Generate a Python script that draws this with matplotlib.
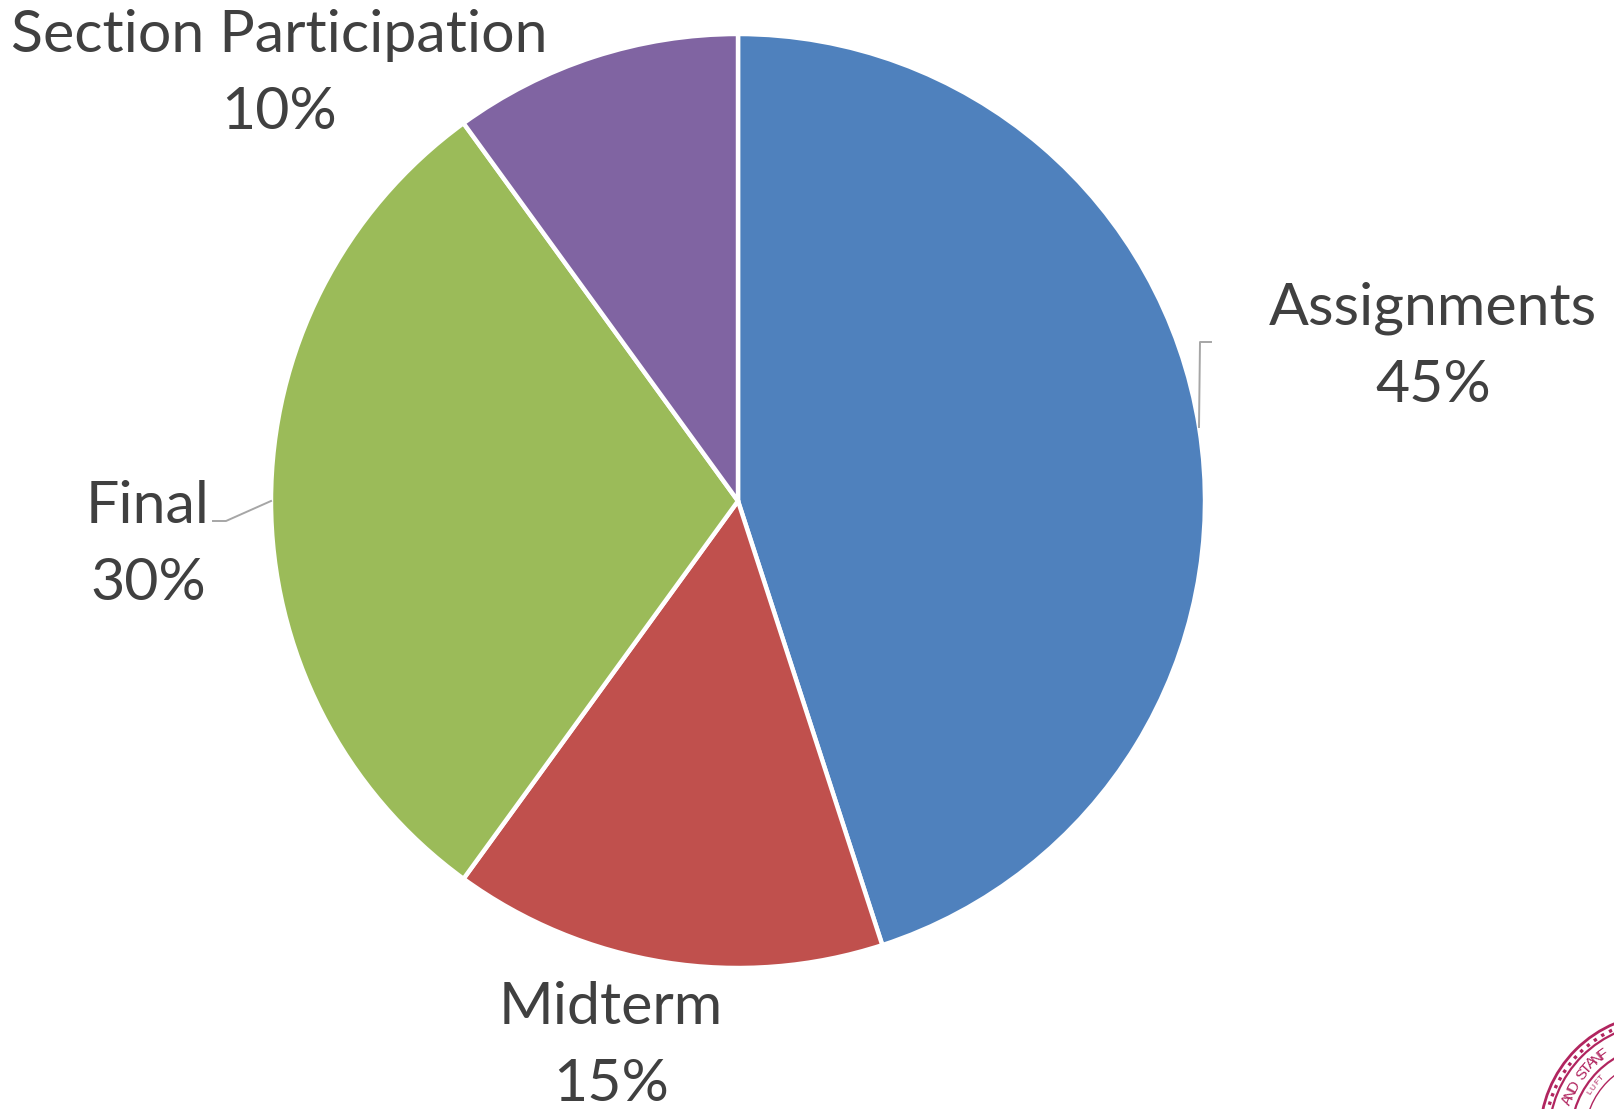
import numpy as np
import matplotlib
matplotlib.use("Agg")
import matplotlib.pyplot as plt
from matplotlib.lines import Line2D
from matplotlib.patches import Circle

W, H = 1614, 1109

categories = ["Assignments", "Midterm", "Final", "Section Participation"]
shares = [45, 15, 30, 10]
colors = ["#4F81BD", "#C0504D", "#9BBB59", "#8064A2"]

plt.rcParams["font.family"] = ["Lato", "DejaVu Sans"]

CX, CY, R = 738, 501, 467
TEXT = "#404040"
SEAL = "#B1255F"
SEAL_FONT = ["Liberation Sans Narrow", "Liberation Sans", "DejaVu Sans"]

fig = plt.figure(figsize=(W / 100, H / 100), dpi=100, facecolor="white")
ax = fig.add_axes([(CX - R) / W, 1 - (CY + R) / H, 2 * R / W, 2 * R / H])
ax.pie(shares, colors=colors, startangle=90, counterclock=False, radius=1,
       wedgeprops={"edgecolor": "white", "linewidth": 3.2})
ax.set_xlim(-1, 1)
ax.set_ylim(-1, 1)

# overlay in pixel coordinates for labels, leaders and the seal
ov = fig.add_axes([0, 0, 1, 1], facecolor="none")
ov.set_xlim(0, W)
ov.set_ylim(H, 0)
ov.axis("off")

label_pos = [(1433, 347), (611, 1046), (148, 545), (279, 74)]
for cat, val, (x, y) in zip(categories, shares, label_pos):
    ov.text(x, y, f"{cat}\n{val}%", ha="center", va="center", fontsize=42.5,
            color=TEXT, linespacing=1.55)

for xs, ys in [([1199, 1200, 1211], [427, 342, 342]), ([271, 226, 213], [501, 521, 521])]:
    ov.add_line(Line2D(xs, ys, color="#A6A6A6", lw=1.4))

# seal in the corner, cut off by the page edge
sx, sy = 1662, 1136
for r, lw, ls in [(122, 2.0, "-"), (117, 2.4, ":"), (113, 1.6, "-"),
                  (91, 1.6, "-"), (77, 1.0, "-")]:
    ov.add_patch(Circle((sx, sy), r, fill=False, ec=SEAL, lw=lw, ls=ls))


def arc_text(s, r, a0, step, size):
    for i, ch in enumerate(s):
        a = np.radians(a0 - i * step)
        x, y = sx + r * np.cos(a), sy - r * np.sin(a)
        # letters past the page edge are not shown
        if x > W - 6 or y > H - 6:
            continue
        ov.text(x, y, ch, fontsize=size, color=SEAL, family=SEAL_FONT,
                rotation=np.degrees(a) - 90, rotation_mode="anchor",
                ha="center", va="center")


arc_text("AND STANFORD", 101, 159, 4.2, 11)
arc_text("DIE LUFT DER", 84, 165.5, 4.2, 6)

fig.savefig("out.png", dpi=100)
plt.close(fig)
